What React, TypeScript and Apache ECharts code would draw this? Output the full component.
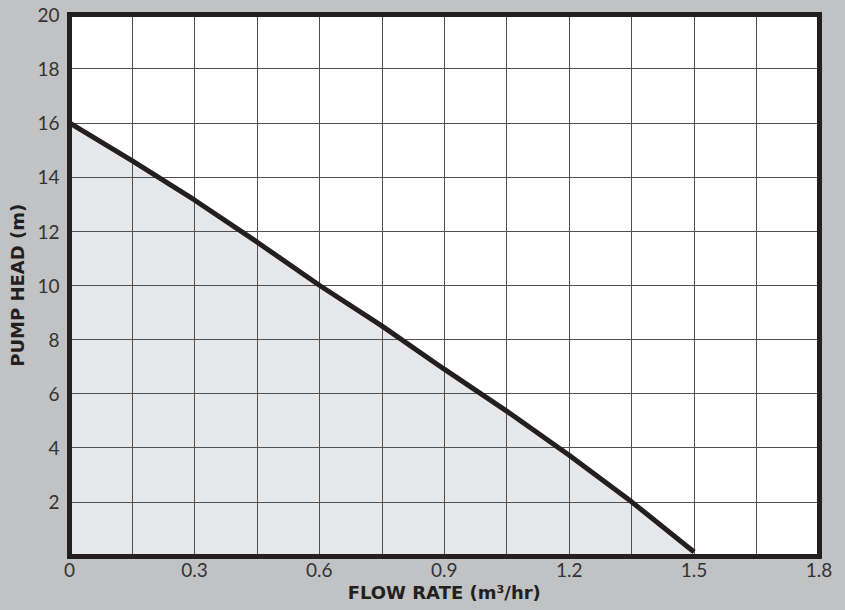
import React, { useEffect, useRef } from "react";
import * as echarts from "echarts";

const flowRates = [0, 0.15, 0.3, 0.45, 0.6, 0.75, 0.9, 1.05, 1.2, 1.35, 1.5];
const pumpHead = [16, 14.6, 13.15, 11.6, 10.0, 8.5, 6.9, 5.35, 3.72, 2.0, 0.15];

const xMin = 0;
const xMax = 1.8;
const xStep = 0.15;
const yMin = 0;
const yMax = 20;
const yStep = 2;

const xName = "FLOW RATE (m³/hr)";
const yName = "PUMP HEAD (m)";

const INK = "#231f20";
const GRIDC = "#505050";
const FILL = "#e6e7e8";
const BG = "#c1c2c4";

export default function App() {
  const ref = useRef<HTMLDivElement>(null);
  useEffect(() => {
    if (!ref.current) return;
    const chart = echarts.init(ref.current, null, { renderer: "svg" });
    const points = flowRates.map((x, i) => [x, pumpHead[i]]);
    const border = { show: true, onZero: false, lineStyle: { color: INK, width: 5, cap: "square" } };
    const labelStyle = { color: "#333333", fontFamily: "Lato", fontWeight: "normal", fontSize: 19 };
    const nameStyle = { color: INK, fontFamily: "DejaVu Sans", fontWeight: "bold", fontSize: 18 };
    chart.setOption({
      animation: false,
      backgroundColor: BG,
      grid: {
        left: 69.5,
        right: 26,
        top: 14.5,
        bottom: 54,
        containLabel: false,
        show: true,
        backgroundColor: "#ffffff",
        borderWidth: 0,
      },
      xAxis: [
        {
          type: "value",
          min: xMin,
          max: xMax,
          interval: xStep,
          z: 3,
          axisLine: border,
          axisTick: { show: false },
          splitLine: { show: true, lineStyle: { color: GRIDC, width: 1 } },
          axisLabel: {
            ...labelStyle,
            margin: 4,
            formatter: (v: number) => {
              const k = Math.round(v / xStep);
              if (k % 2 !== 0) return "";
              return k === 0 ? "0" : (k * xStep).toFixed(1);
            },
          },
          name: xName,
          nameLocation: "middle",
          nameGap: 26,
          nameTextStyle: nameStyle,
        },
        {
          type: "value",
          position: "top",
          min: xMin,
          max: xMax,
          interval: xStep,
          z: 4,
          axisLine: border,
          axisTick: { show: false },
          axisLabel: { show: false },
          splitLine: { show: false },
        },
      ],
      yAxis: [
        {
          type: "value",
          min: yMin,
          max: yMax,
          interval: yStep,
          z: 3,
          axisLine: border,
          axisTick: { show: false },
          splitLine: { show: true, lineStyle: { color: GRIDC, width: 1 } },
          axisLabel: {
            ...labelStyle,
            margin: 10,
            formatter: (v: number) => (v === 0 ? "" : String(v)),
          },
          name: yName,
          nameLocation: "middle",
          nameGap: 36,
          nameTextStyle: nameStyle,
        },
        {
          type: "value",
          position: "right",
          min: yMin,
          max: yMax,
          interval: yStep,
          z: 4,
          axisLine: border,
          axisTick: { show: false },
          axisLabel: { show: false },
          splitLine: { show: false },
        },
      ],
      series: [
        {
          type: "line",
          data: points,
          z: 1,
          symbol: "none",
          lineStyle: { width: 0 },
          areaStyle: { color: FILL, opacity: 1, origin: "start" },
          silent: true,
        },
        {
          type: "line",
          data: points,
          z: 5,
          symbol: "none",
          lineStyle: { color: INK, width: 5 },
          silent: true,
        },
      ],
    });
    return () => chart.dispose();
  }, []);
  return (
    <div
      ref={ref}
      style={{ position: "absolute", left: 0, top: 0, width: 845, height: 610, background: BG }}
    />
  );
}
